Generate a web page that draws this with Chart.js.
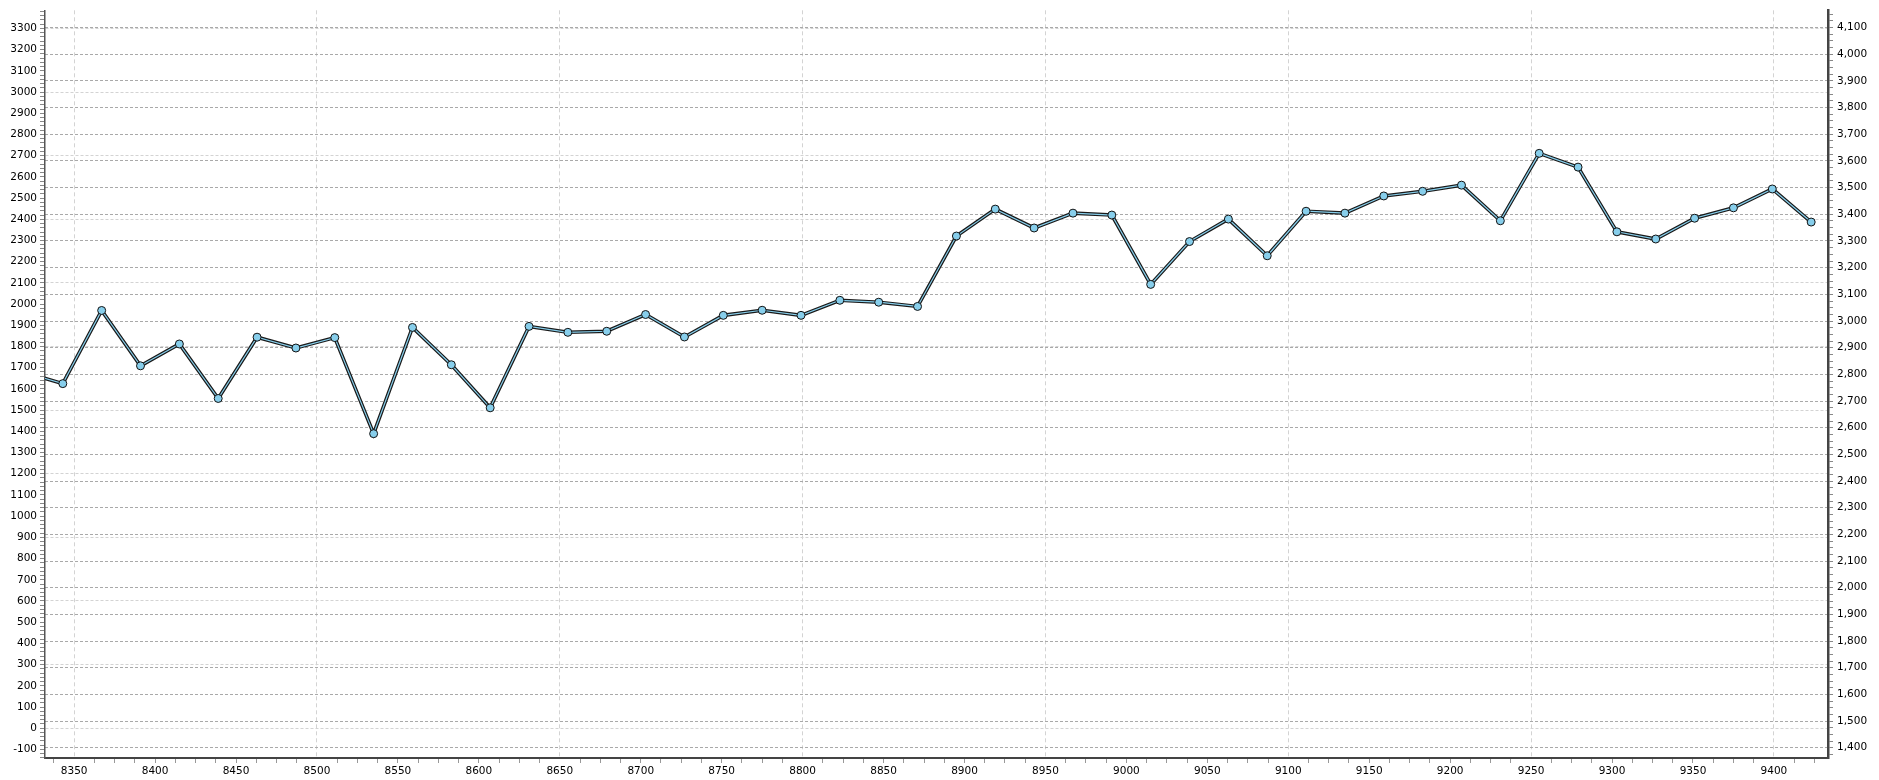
<!DOCTYPE html>
<html>
<head>
<meta charset="utf-8">
<script src="https://cdn.jsdelivr.net/npm/chart.js@4/dist/chart.umd.min.js"></script>
<style>
  html, body { margin: 0; padding: 0; background: #fff; }
  #wrap { width: 1879px; height: 780px; }
</style>
</head>
<body>
<div id="wrap"><canvas id="myChart" width="1879" height="780"></canvas></div>
<script>
// x positions of the samples (first one sits just left of the visible range)
const xValues = [8319, 8343, 8367, 8391, 8415, 8439, 8463, 8487, 8511, 8535, 8559, 8583,
    8607, 8631, 8655, 8679, 8703, 8727, 8751, 8775, 8799, 8823, 8847, 8871, 8895, 8919,
    8943, 8967, 8991, 9015, 9039, 9063, 9087, 9111, 9135, 9159, 9183, 9207, 9231, 9255,
    9279, 9303, 9327, 9351, 9375, 9399, 9423]
const yValues = [1680, 1625, 1970, 1709, 1812, 1555, 1844, 1793, 1842, 1389, 1890, 1714,
    1511, 1895, 1867, 1872, 1951, 1845, 1947, 1971, 1947, 2018, 2009, 1989, 2321, 2448,
    2359, 2429, 2420, 2093, 2295, 2401, 2228, 2438, 2429, 2510, 2532, 2561, 2393, 2711,
    2646, 2341, 2307, 2405, 2454, 2543, 2387]

// axis ranges
const xRange = [8332, 9433.4]
const leftRange = [-140.5, 3385.6]
const rightRange = [1361.5, 4165]

const points = xValues.map((x, i) => ({ x: x, y: yValues[i] }))
const tickFont = { family: 'DejaVu Sans', size: 10.5 }
const clear = 'rgba(0,0,0,0)'

// vertical grid every 150 starting from 8350
const onXGrid = (c) => c.tick && (c.tick.value - 8350) % 150 === 0

let ctx = document.querySelector('#myChart').getContext('2d')

let myChart = new Chart(ctx, {
    type: 'line',
    data: {
        datasets: [{
            // light inner line with the markers
            data: points,
            yAxisID: 'y',
            borderColor: '#87CEEB',
            borderWidth: 1.2,
            pointRadius: 4,
            pointBackgroundColor: '#87CEEB',
            pointBorderColor: '#111',
            pointBorderWidth: 1,
            tension: 0,
            clip: 0,
            order: 0
        }, {
            // dark outer stroke
            data: points,
            yAxisID: 'y',
            borderColor: '#1a1a1a',
            borderWidth: 3.6,
            pointRadius: 0,
            tension: 0,
            clip: 0,
            order: 1
        }]
    },
    options: {
        responsive: false,
        animation: false,
        events: [],
        devicePixelRatio: 1,
        layout: { padding: { top: 5, left: 0, right: 0, bottom: 0 } },
        plugins: {
            legend: { display: false },
            tooltip: { enabled: false }
        },
        scales: {
            x: {
                type: 'linear',
                position: 'bottom',
                min: xRange[0],
                max: xRange[1],
                afterFit: (s) => { s.height = 22 },
                border: { display: true, color: '#444', width: 2, dash: [4, 3] },
                grid: {
                    color: (c) => onXGrid(c) ? '#d3d3d3' : clear,
                    tickColor: (c) => onXGrid(c) ? clear : '#999',
                    tickLength: 5,
                    lineWidth: 1
                },
                ticks: {
                    stepSize: 12.5,
                    includeBounds: false,
                    autoSkip: false,
                    maxRotation: 0,
                    padding: 2,
                    color: '#000',
                    font: tickFont,
                    callback: (v) => v % 50 === 0 ? String(v) : ''
                }
            },
            y: {
                type: 'linear',
                position: 'left',
                min: leftRange[0],
                max: leftRange[1],
                afterFit: (s) => { s.width = 45 },
                border: { display: true, color: '#555', width: 1.5, dash: [3, 2] },
                grid: {
                    color: (c) => (c.tick && c.tick.value % 300 === 0) ? '#d3d3d3' : clear,
                    tickColor: '#888',
                    tickLength: 5
                },
                ticks: {
                    stepSize: 20,
                    includeBounds: false,
                    autoSkip: false,
                    padding: 3,
                    color: '#000',
                    font: tickFont,
                    callback: (v) => v % 100 === 0 ? String(v) : ''
                }
            },
            y2: {
                type: 'linear',
                position: 'right',
                min: rightRange[0],
                max: rightRange[1],
                afterFit: (s) => { s.width = 51 },
                border: { display: true, color: '#444', width: 2.5, dash: [3, 2] },
                grid: {
                    color: (c) => (c.tick && c.tick.value % 100 === 0) ? '#a9a9a9' : clear,
                    tickColor: '#888',
                    tickLength: 5
                },
                ticks: {
                    stepSize: 25,
                    includeBounds: false,
                    autoSkip: false,
                    padding: 4,
                    color: '#000',
                    font: tickFont,
                    callback: (v) => v % 100 === 0 ? v.toLocaleString('en-US') : ''
                }
            }
        }
    }
})
</script>
</body>
</html>
